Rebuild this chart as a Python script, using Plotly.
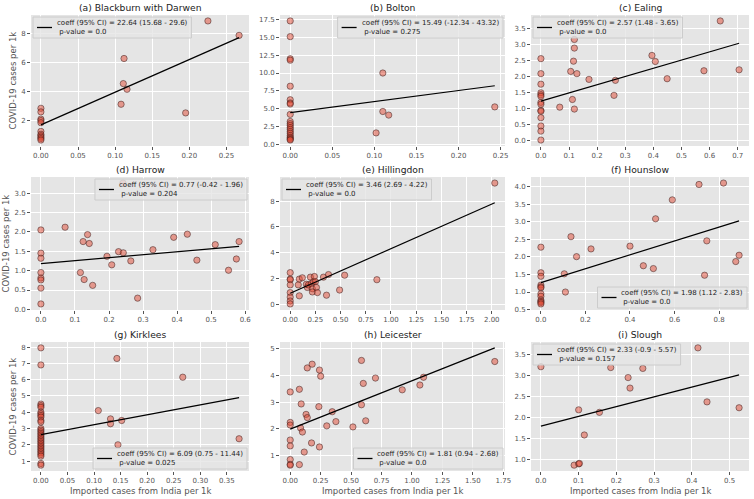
import plotly.graph_objects as go

W, H = 754, 499

panel_titles = ["(a) Blackburn with Darwen", "(b) Bolton", "(c) Ealing",
                "(d) Harrow", "(e) Hillingdon", "(f) Hounslow",
                "(g) Kirklees", "(h) Leicester", "(i) Slough"]

a_x = [0, 0, 0, 0, 0, 0, 0, 0, 0, 0, 0, 0.108, 0.111, 0.112, 0.116, 0.195, 0.225, 0.267]
a_y = [2.85, 2.6, 2.1, 2.0, 1.85, 1.25, 1.05, 0.95, 0.85, 0.75, 0.65, 3.13, 4.56, 6.3, 4.17, 2.53, 8.9, 7.9]

b_x = [0, 0, 0, 0, 0, 0, 0, 0, 0, 0, 0, 0, 0, 0, 0, 0, 0, 0, 0, 0, 0,
       0.11, 0.11, 0.117, 0.102, 0.243]
b_y = [17.3, 15.1, 12.0, 11.8, 8.15, 6.25, 5.8, 5.65, 4.2, 3.2, 2.9, 2.65, 2.35, 2.1,
       1.8, 1.55, 1.25, 1.0, 0.85, 0.7, 0.6, 10.0, 4.6, 4.1, 1.6, 5.25]

c_x = [0, 0, 0, 0, 0, 0, 0, 0, 0, 0, 0, 0, 0, 0,
       0.067, 0.106, 0.112, 0.119, 0.116, 0.119, 0.119, 0.128, 0.171, 0.26, 0.265,
       0.395, 0.407, 0.449, 0.58, 0.638, 0.705]
c_y = [2.55, 2.08, 1.75, 1.48, 1.42, 1.37, 1.18, 1.12, 0.93, 0.9, 0.7, 0.44, 0.28, 0.0,
       1.03, 2.15, 1.27, 0.97, 2.47, 2.88, 3.15, 2.08, 1.9, 1.4, 1.87,
       2.65, 2.46, 1.92, 2.17, 3.73, 2.2]

d_x = [0, 0, 0, 0, 0, 0, 0, 0,
       0.071, 0.116, 0.124, 0.127, 0.137, 0.142, 0.152, 0.194, 0.208, 0.228, 0.241,
       0.242, 0.264, 0.284, 0.329, 0.39, 0.43, 0.458, 0.512, 0.551, 0.574, 0.582]
d_y = [2.05, 1.45, 1.32, 0.95, 0.81, 0.76, 0.55, 0.14,
       2.12, 0.95, 1.75, 0.77, 1.93, 1.70, 0.62, 1.37, 1.15, 1.49, 3.26,
       1.46, 1.25, 0.29, 1.54, 1.86, 1.94, 1.27, 1.67, 1.01, 1.30, 1.75]

e_x = [0, 0, 0, 0, 0, 0, 0, 0,
       0.08, 0.09, 0.09, 0.12, 0.16, 0.17, 0.18, 0.2, 0.21, 0.22, 0.22, 0.23, 0.24,
       0.25, 0.26, 0.27, 0.33, 0.36, 0.38, 0.49, 0.54, 0.86, 2.03]
e_y = [2.45, 1.95, 1.9, 1.5, 0.9, 0.55, 0.25, 0.02,
       1.5, 1.95, 0.65, 2.05, 1.55, 1.3, 1.5, 2.1, 1.6, 1.2, 0.95, 1.75, 2.15,
       1.75, 1.3, 0.9, 2.1, 0.7, 2.3, 1.1, 2.25, 1.9, 9.4]

f_x = [0, 0, 0, 0, 0, 0, 0, 0, 0, 0, 0, 0,
       0.105, 0.11, 0.135, 0.16, 0.225, 0.40, 0.46, 0.505, 0.515, 0.59, 0.71,
       0.735, 0.745, 0.82, 0.875, 0.89]
f_y = [2.28, 1.55, 1.45, 1.2, 1.15, 1.12, 0.95, 0.88, 0.77, 0.73, 0.7, 0.66,
       1.52, 1.0, 2.58, 2.01, 2.23, 2.31, 1.75, 1.67, 3.09, 3.63, 4.07,
       1.48, 2.46, 4.11, 1.87, 2.05]

g_x = [0, 0, 0, 0, 0, 0, 0, 0, 0, 0, 0, 0, 0, 0, 0, 0, 0, 0, 0, 0, 0, 0, 0, 0, 0, 0, 0, 0, 0, 0, 0,
       0.108, 0.131, 0.131, 0.143, 0.145, 0.152, 0.267, 0.373]
g_y = [7.95, 6.9, 4.5, 4.4, 4.3, 4.0, 3.9, 3.8, 3.7, 3.5, 3.4, 3.0, 2.9, 2.8, 2.7, 2.6,
       2.5, 2.4, 2.3, 2.2, 2.1, 2.0, 1.9, 1.8, 1.7, 1.6, 1.5, 1.4, 1.3, 0.85, 0.75,
       4.1, 3.59, 3.29, 7.3, 2.0, 3.49, 6.15, 2.37]

h_x = [0, 0, 0, 0, 0, 0, 0, 0,
       0.075, 0.09, 0.085, 0.1, 0.075, 0.13, 0.14, 0.14, 0.18, 0.115, 0.175, 0.24,
       0.24, 0.25, 0.235, 0.345, 0.375, 0.30, 0.515, 0.585, 0.62, 0.585, 0.6, 0.7,
       0.92, 1.065, 1.095, 1.68]
h_y = [3.38, 2.24, 2.14, 1.58, 1.36, 0.85, 0.67, 0.64,
       3.48, 2.93, 2.03, 1.88, 0.66, 2.54, 2.42, 4.28, 4.42, 1.13, 1.47, 1.32,
       4.2, 3.97, 2.83, 2.64, 2.27, 2.11, 2.07, 2.9, 2.3, 4.56, 3.7, 3.9,
       3.46, 3.64, 3.93, 4.52]

i_x = [0, 0.088, 0.1, 0.102, 0.1, 0.115, 0.155, 0.185, 0.231, 0.236, 0.27, 0.416, 0.44, 0.525]
i_y = [3.22, 0.87, 0.9, 0.91, 2.19, 1.59, 2.13, 3.2, 2.96, 2.71, 3.18, 3.67, 2.38, 2.24]

xs = [a_x, b_x, c_x, d_x, e_x, f_x, g_x, h_x, i_x]
ys = [a_y, b_y, c_y, d_y, e_y, f_y, g_y, h_y, i_y]

coeff = [22.64, 15.49, 2.57, 0.77, 3.46, 1.98, 6.09, 1.81, 2.33]
ci_lo = [15.68, -12.34, 1.48, -0.42, 2.69, 1.12, 0.75, 0.94, -0.9]
ci_hi = [29.6, 43.32, 3.65, 1.96, 4.22, 2.83, 11.44, 2.68, 5.57]
pvals = [0.0, 0.275, 0.0, 0.204, 0.0, 0.0, 0.025, 0.0, 0.157]
intercept = [1.70, 4.45, 1.22, 1.18, 0.85, 1.27, 2.62, 1.99, 1.80]

legend_loc = ["ul", "ur", "ul", "ur", "ul", "lr", "lr", "lr", "ul"]

x_dtick = [0.05, 0.05, 0.1, 0.1, 0.25, 0.2, 0.05, 0.25, 0.1]
x_fmt = [".2f", ".2f", ".1f", ".1f", ".2f", ".1f", ".2f", ".2f", ".1f"]
y_dtick = [2, 2.5, 0.5, 0.5, 2, 0.5, 1, 1, 0.5]
y_fmt = ["d", ".1f", ".1f", ".1f", "d", ".1f", "d", "d", ".1f"]

x_label = "Imported cases from India per 1k"
y_label = "COVID-19 cases per 1k"

# layout geometry in pixels
col_px = [(31, 249), (280, 505), (531, 749)]
row_px = [(15, 146), (177, 310), (342, 471)]
ylab_px = [12, 5, 12]

FONT = "DejaVu Sans"
TICK_FS, LEG_FS, LAB_FS, TIT_FS = 7, 7, 8.5, 9.2

# approximate DejaVu Sans advance widths (em) for legend box sizing
CW = {" ": .318, "(": .390, ")": .390, "%": .950, "-": .361, ".": .318, "=": .838,
      "C": .698, "I": .295, "a": .613, "c": .550, "e": .615, "f": .352, "l": .278,
      "o": .612, "p": .635, "u": .634, "v": .592}
def text_w(s, fs):
    return sum(CW.get(ch, .636) for ch in s) * fs

fig = go.Figure()

def pad(lo, hi):
    m = 0.05 * (hi - lo)
    return [lo - m, hi + m]

def px_x(p):
    return p / W

def px_y(p):
    return 1 - p / H

shapes = []
annos = []
for k in range(9):
    r, c = divmod(k, 3)
    sfx = "" if k == 0 else str(k + 1)
    xa, ya = "x" + sfx, "y" + sfx
    x, y = xs[k], ys[k]
    fig.add_trace(go.Scatter(
        x=x, y=y, mode="markers", xaxis=xa, yaxis=ya, showlegend=False,
        marker=dict(size=6.3, color="rgba(226,74,51,0.5)",
                    line=dict(width=0.7, color="rgba(50,25,25,0.7)")),
        hoverinfo="skip"))
    x0, x1 = min(x), max(x)
    lx = [x0, x1]
    ly = [intercept[k] + coeff[k] * v for v in lx]
    fig.add_trace(go.Scatter(
        x=lx, y=ly, mode="lines", xaxis=xa, yaxis=ya, showlegend=False,
        line=dict(color="black", width=1.2), hoverinfo="skip"))

    L, R = col_px[c]
    T, B = row_px[r]
    dx = [px_x(L), px_x(R)]
    dy = [px_y(B), px_y(T)]
    xr = pad(x0, x1)
    yr = pad(min(min(y), min(ly)), max(max(y), max(ly)))
    common = dict(showgrid=True, gridcolor="white", gridwidth=1, zeroline=False,
                  showline=False, ticks="outside", ticklen=3, tickwidth=1,
                  tickcolor="#555555", automargin=False,
                  tickfont=dict(family=FONT, size=TICK_FS, color="#555555"))
    fig.layout["xaxis" + sfx] = dict(domain=dx, anchor=ya, range=xr, tick0=0,
                                     dtick=x_dtick[k], tickformat=x_fmt[k], **common)
    fig.layout["yaxis" + sfx] = dict(domain=dy, anchor=xa, range=yr, tick0=0,
                                     dtick=y_dtick[k], tickformat=y_fmt[k], **common)

    # subplot title
    annos.append(dict(text=panel_titles[k], xref="paper", yref="paper",
                      x=(dx[0] + dx[1]) / 2, y=px_y(T - 8), xanchor="center",
                      yanchor="middle", showarrow=False,
                      font=dict(family=FONT, size=TIT_FS, color="#222222")))
    if r == 2:
        annos.append(dict(text=x_label, xref="paper", yref="paper",
                          x=(dx[0] + dx[1]) / 2, y=px_y(491), xanchor="center",
                          yanchor="middle", showarrow=False,
                          font=dict(family=FONT, size=LAB_FS, color="#555555")))
    if c == 0:
        annos.append(dict(text=y_label, xref="paper", yref="paper", textangle=-90,
                          x=px_x(ylab_px[r]), y=(dy[0] + dy[1]) / 2, xanchor="center",
                          yanchor="middle", showarrow=False,
                          font=dict(family=FONT, size=LAB_FS, color="#555555")))

    # legend box drawn by hand
    line1 = "coeff (95% CI) = {} ({} - {})".format(coeff[k], ci_lo[k], ci_hi[k])
    line2 = "\u00a0p-value = {}".format(pvals[k])
    tw = max(text_w(line1, LEG_FS), text_w(line2, LEG_FS))
    bw = 4 + 15 + 4 + tw + 5
    bh = 21
    loc = legend_loc[k]
    if loc == "ul":
        bx0, by0 = L + 2, T + 2
    elif loc == "ur":
        bx0, by0 = R - 2 - bw, T + 2
    else:
        bx0, by0 = R - 2 - bw, B - 2 - bh
    shapes.append(dict(type="rect", xref="paper", yref="paper",
                       x0=px_x(bx0), x1=px_x(bx0 + bw), y0=px_y(by0), y1=px_y(by0 + bh),
                       fillcolor="rgba(229,229,229,0.8)",
                       line=dict(color="#CCCCCC", width=1), layer="above"))
    ymid = by0 + bh / 2
    shapes.append(dict(type="line", xref="paper", yref="paper",
                       x0=px_x(bx0 + 4), x1=px_x(bx0 + 19), y0=px_y(ymid), y1=px_y(ymid),
                       line=dict(color="black", width=1.3), layer="above"))
    annos.append(dict(text=line1 + "<br>" + line2, xref="paper", yref="paper",
                      x=px_x(bx0 + 22), y=px_y(ymid), xanchor="left", yanchor="middle",
                      align="left", showarrow=False,
                      font=dict(family=FONT, size=LEG_FS, color="#222222")))

fig.update_layout(width=W, height=H,
                  margin=dict(l=0, r=0, t=0, b=0, autoexpand=False),
                  plot_bgcolor="#E5E5E5", paper_bgcolor="white",
                  font=dict(family=FONT), showlegend=False,
                  shapes=shapes, annotations=annos)

fig.write_html("out.html", config={"displayModeBar": False},
               post_script="document.body.style.margin='0';document.body.style.overflow='hidden';")
